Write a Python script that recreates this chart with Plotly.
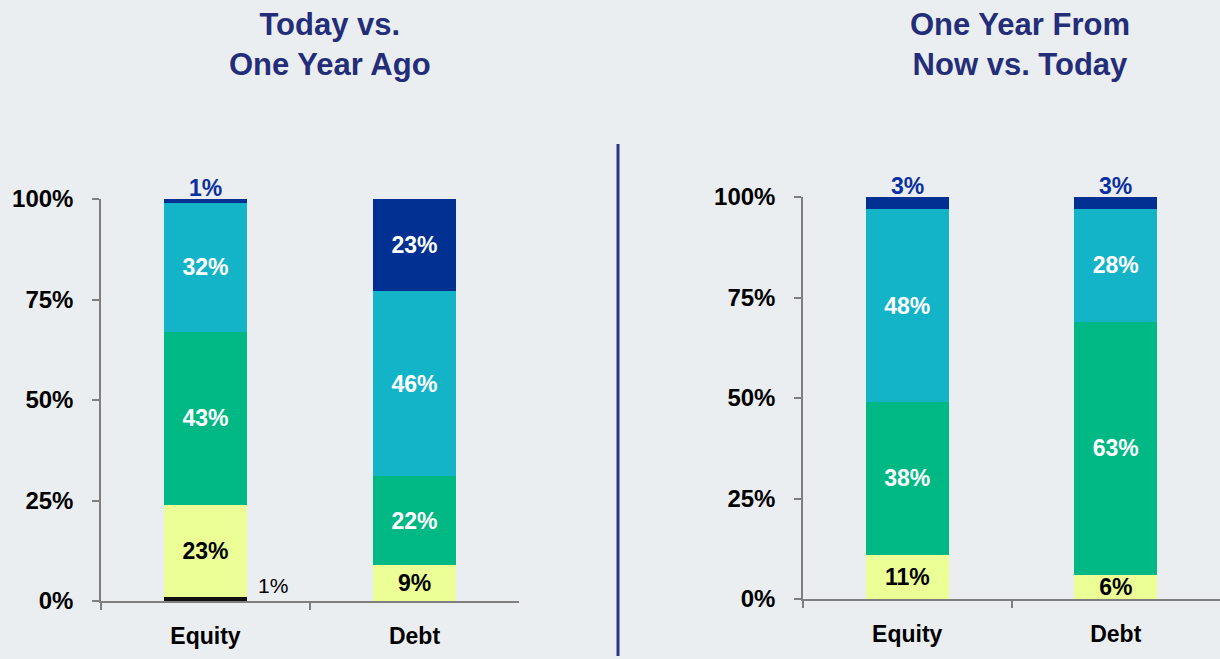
import plotly.graph_objects as go

categories = ["Equity", "Debt"]
segments = ["Black", "Yellow", "Green", "Teal", "Navy"]

left_black = [1, 0]
left_yellow = [23, 9]
left_green = [43, 22]
left_teal = [32, 46]
left_navy = [1, 23]

right_black = [0, 0]
right_yellow = [11, 6]
right_green = [38, 63]
right_teal = [48, 28]
right_navy = [3, 3]

y_ticks = [0, 25, 50, 75, 100]
y_tick_labels = ["0%", "25%", "50%", "75%", "100%"]

title_left = "Today vs.<br>One Year Ago"
title_right = "One Year From<br>Now vs. Today"

colors = {
    "Black": "#111111",
    "Yellow": "#EBFF96",
    "Green": "#00B884",
    "Teal": "#14B4C8",
    "Navy": "#003092",
}
text_colors = {
    "Black": "#000000",
    "Yellow": "#000000",
    "Green": "#FFFFFF",
    "Teal": "#FFFFFF",
    "Navy": "#FFFFFF",
}

FONT = "Liberation Sans, Arial, Helvetica, sans-serif"
BG = "#EBEEF0"
W, H = 1220, 659

fig = go.Figure()

def add_panel(vals, xa, ya):
    for seg, v in zip(segments, vals):
        texts = [f"{val}%" if val >= 5 else "" for val in v]
        fig.add_trace(go.Bar(
            x=categories, y=v, name=seg, xaxis=xa, yaxis=ya,
            marker=dict(color=colors[seg], line=dict(width=0)),
            width=0.4,
            text=texts, textposition="inside", insidetextanchor="middle",
            textangle=0,
            textfont=dict(family=FONT, size=23, color=text_colors[seg], weight="bold"),
            showlegend=False, hoverinfo="skip",
        ))

left_vals = [left_black, left_yellow, left_green, left_teal, left_navy]
right_vals = [right_black, right_yellow, right_green, right_teal, right_navy]
add_panel(left_vals, "x", "y")
add_panel(right_vals, "x2", "y2")

def ydom(top_px, bottom_px):
    return [(H - bottom_px) / H, (H - top_px) / H]

axis_common = dict(
    showgrid=False, zeroline=False, showline=True, linecolor="#7F7F7F", linewidth=1.5,
    ticks="outside", ticklen=7, tickcolor="#7F7F7F", tickwidth=1.5, automargin=False,
)
tick_font = dict(family=FONT, size=24, color="#000000", weight="bold")
cat_font = dict(family=FONT, size=23, color="#000000", weight="bold")

fig.update_layout(
    width=W, height=H,
    margin=dict(l=0, r=0, t=0, b=0, pad=0),
    paper_bgcolor=BG, plot_bgcolor=BG,
    barmode="stack",
    uniformtext=dict(minsize=23, mode="show"),
    xaxis=dict(domain=[101 / W, 519 / W], anchor="y", type="category",
               range=[-0.5, 1.5], tickson="boundaries", ticklabelstandoff=14,
               tickfont=cat_font, **axis_common),
    yaxis=dict(domain=ydom(199, 601), anchor="x", range=[0, 100],
               tickvals=y_ticks, ticktext=y_tick_labels, ticklabelstandoff=14,
               tickfont=tick_font, **axis_common),
    xaxis2=dict(domain=[803 / W, 1.0], anchor="y2", type="category",
                range=[-0.5, 1.5], tickson="boundaries", ticklabelstandoff=14,
                tickfont=cat_font, **axis_common),
    yaxis2=dict(domain=ydom(197, 599), anchor="x2", range=[0, 100],
                tickvals=y_ticks, ticktext=y_tick_labels, ticklabelstandoff=14,
                tickfont=tick_font, **axis_common),
)

annotations = []
for xa, ya, navy, vals in [("x", "y", left_navy, left_vals), ("x2", "y2", right_navy, right_vals)]:
    for i, cat in enumerate(categories):
        if navy[i] < 5:
            total = sum(v[i] for v in vals)
            annotations.append(dict(
                x=cat, y=total, xref=xa, yref=ya, text=f"{navy[i]}%",
                showarrow=False, yanchor="bottom", yshift=-4,
                font=dict(family=FONT, size=23, color="#0A2FA0", weight="bold"),
            ))
for i, cat in enumerate(categories):
    if 0 < left_black[i] < 5:
        annotations.append(dict(
            x=cat, y=left_black[i], xref="x", yref="y", text=f"{left_black[i]}%",
            showarrow=False, xanchor="left", yanchor="bottom", xshift=50, yshift=-2,
            font=dict(family=FONT, size=21, color="#000000"),
        ))
for txt, xc in [(title_left, 330), (title_right, 1020)]:
    annotations.append(dict(
        x=xc / W, y=(H - 44) / H, xref="paper", yref="paper", text=txt,
        showarrow=False, xanchor="center", yanchor="middle", align="center",
        font=dict(family=FONT, size=31, color="#232D78", weight="bold"),
    ))
fig.update_layout(annotations=annotations)

fig.add_shape(type="line", xref="paper", yref="paper",
              x0=618 / W, x1=618 / W, y0=(H - 656) / H, y1=(H - 144) / H,
              line=dict(color="#2E3388", width=3))

fig.write_html(
    "out.html",
    config={"displayModeBar": False},
    post_script="document.body.style.margin='0';document.body.style.padding='0';"
                "document.body.style.background='#EBEEF0';document.body.style.overflow='hidden';",
)
